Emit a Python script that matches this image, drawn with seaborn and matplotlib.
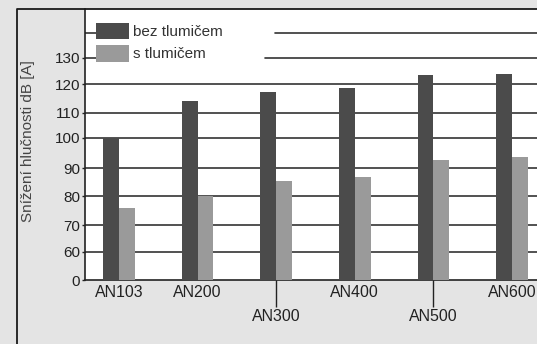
import numpy as np
import pandas as pd
import matplotlib
matplotlib.use("Agg")
import matplotlib.pyplot as plt
from matplotlib.lines import Line2D
import seaborn as sns

# --- data -------------------------------------------------------------
models = ["AN103", "AN200", "AN300", "AN400", "AN500", "AN600"]
series = ["bez tlumičem", "s tlumičem"]
bez_tlumicem = [100.0, 114.2, 117.3, 118.7, 123.3, 123.7]
s_tlumicem = [75.8, 80.0, 85.4, 86.8, 92.7, 93.6]
tick_values = [50, 60, 70, 80, 90, 100, 110, 120, 130]
tick_labels = ["0", "60", "70", "80", "90", "100", "110", "120", "130"]

df = pd.DataFrame({
    "model": models * 2,
    "variant": [series[0]] * len(models) + [series[1]] * len(models),
    "value": bez_tlumicem + s_tlumicem,
})

# --- broken, slightly uneven value axis (0 jumps straight to 60) -------
scale_vals = [50, 60, 70, 80, 90, 100, 110, 120, 130, 140, 150]
scale_pos = [0, 28.3, 54.7, 83.7, 111.7, 142.3, 167, 196, 222.3, 247, 271]

def fwd(v):
    return np.interp(v, scale_vals, scale_pos)

def inv(p):
    return np.interp(p, scale_pos, scale_vals)

# --- styling ----------------------------------------------------------
sns.set_style("white")
plt.rcParams["font.family"] = ["Liberation Sans", "DejaVu Sans"]
txt = "#222222"

fig = plt.figure(figsize=(5.37, 3.44), dpi=100, facecolor="#e4e4e4")
ax = fig.add_axes([85 / 537, 1 - 280 / 344, 452 / 537, 271 / 344])
ax.set_facecolor("white")

sns.barplot(data=df, x="model", y="value", hue="variant", order=models,
            hue_order=series, palette=["#4b4b4b", "#9a9a9a"], width=0.4,
            gap=0, linewidth=0, saturation=1, errorbar=None, ax=ax, zorder=3)

ax.set_yscale("function", functions=(fwd, inv))
ax.set_ylim(50, 150)
ax.set_xlim(-0.4326, 5.318)

# horizontal rules behind the bars
grid_kw = dict(color="#333333", lw=1.2, zorder=1)
for v in [60, 70, 80, 90, 100, 110, 120]:
    ax.axhline(v, **grid_kw)
ax.axhline(130, xmin=0.398, xmax=1, **grid_kw)
ax.axhline(140, xmin=0.42, xmax=1, **grid_kw)
for v in [130, 140]:
    ax.axhline(v, xmin=0, xmax=0.024, **grid_kw)

# y axis
ax.set_yticks(tick_values, tick_labels)
ax.tick_params(axis="y", length=2.5, width=1, pad=1, labelsize=11,
               colors=txt, direction="out", left=True)
ax.set_ylabel("Snížení hlučnosti dB [A]", fontsize=11, color="#444444")
ax.yaxis.set_label_coords(-0.111, 0.513)

# x axis: staggered labels, the lower ones hang on a long tick
upper = [0, 1, 3, 5]
lower = [2, 4]
ax.set_xticks(upper, [models[i] for i in upper])
ax.set_xticks(lower, [models[i] for i in lower], minor=True)
ax.tick_params(axis="x", which="major", length=0, pad=3.6, labelsize=11.5,
               colors=txt)
ax.tick_params(axis="x", which="minor", length=19.2, width=1, pad=2,
               labelsize=11.5, colors=txt, direction="out", bottom=True)
ax.set_xlabel("")

for side in ["top", "right"]:
    ax.spines[side].set_visible(False)
for side in ["left", "bottom"]:
    ax.spines[side].set_color("#222222")
    ax.spines[side].set_linewidth(1.2)

handles, labels = ax.get_legend_handles_labels()
leg = ax.legend(handles, labels, loc="upper left",
                bbox_to_anchor=(11 / 452, 1 - 13.7 / 271), frameon=False,
                borderpad=0, borderaxespad=0, handlelength=2.16,
                handleheight=1.31, handletextpad=0.26, labelspacing=0.35,
                fontsize=11)
for t in leg.get_texts():
    t.set_color("#333333")

# outer frame: top rule and left rule of the panel
fig.add_artist(Line2D([17 / 537, 17 / 537, 1], [0, 1 - 9 / 344, 1 - 9 / 344],
                      transform=fig.transFigure, color="#1a1a1a", lw=1.3))

fig.savefig("out.png", dpi=100, facecolor=fig.get_facecolor())
